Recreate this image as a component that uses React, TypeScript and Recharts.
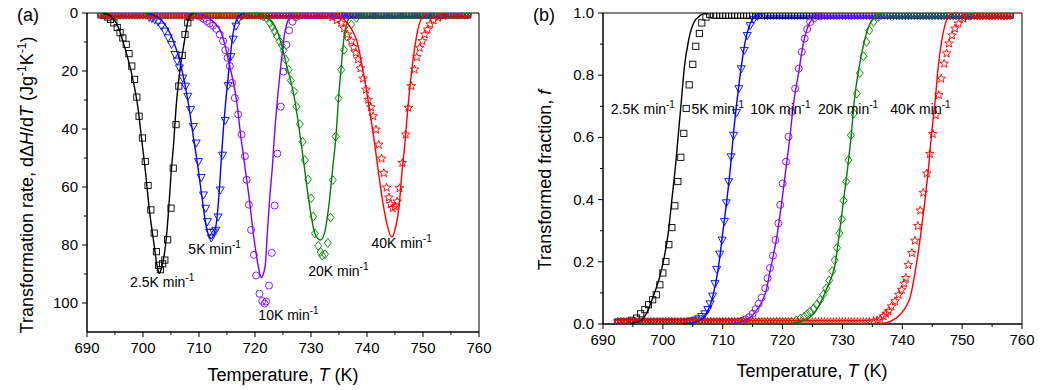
import React from "react";
import { ScatterChart, Scatter, XAxis, YAxis, ReferenceArea, ReferenceDot, Label } from "recharts";

const FONT = '"Liberation Sans", Arial, Helvetica, sans-serif';

// temperatures of the flat parts of every run (K)
const baselineT = [
  692.5, 693, 693.5, 694, 694.5, 695, 695.5, 696, 696.5, 697, 697.5, 698, 698.5, 699, 699.5, 700,
  700.5, 701, 701.5, 702, 702.5, 703, 703.5, 704, 704.5, 705, 705.5, 706, 706.5, 707, 707.5, 708,
  708.5, 709, 709.5, 710, 710.5, 711, 711.5, 712, 712.5, 713, 713.5, 714, 714.5, 715, 715.5, 716,
  716.5, 717, 717.5, 718, 718.5, 719, 719.5, 720, 720.5, 721, 721.5, 722, 722.5, 723, 723.5, 724,
  724.5, 725, 725.5, 726, 726.5, 727, 727.5, 728, 728.5, 729, 729.5, 730, 730.5, 731, 731.5, 732,
  732.5, 733, 733.5, 734, 734.5, 735, 735.5, 736, 736.5, 737, 737.5, 738, 738.5, 739, 739.5, 740,
  740.5, 741, 741.5, 742, 742.5, 743, 743.5, 744, 744.5, 745, 745.5, 746, 746.5, 747, 747.5, 748,
  748.5, 749, 749.5, 750, 750.5, 751, 751.5, 752, 752.5, 753, 753.5, 754, 754.5, 755, 755.5, 756,
  756.5, 757, 757.5, 758,
];

// (a) transformation rate dΔH/dT, measured points [T, value]
const rateExp25 = [
  [693.2, 0.8], [693.7, 1.4], [694.2, 2.2], [694.8, 3.4], [695.4, 5.0], [695.9, 6.8], [696.4, 8.6],
  [697.0, 10.8], [697.5, 14.0], [698.0, 18.3], [698.5, 22.9], [698.9, 29.0], [699.3, 35.6], [699.9, 43.1],
  [700.4, 51.2], [700.9, 59.5], [701.4, 67.9], [702.0, 75.9], [702.4, 82.3], [702.8, 87.0], [703.1, 88.5],
  [703.5, 86.5], [703.9, 85.2], [704.4, 78.2], [705.0, 67.3], [705.4, 53.5], [705.9, 38.5], [706.4, 25.2],
  [707.0, 14.6], [707.5, 7.4], [708.0, 3.4], [708.4, 1.4],
];
const rateExp5 = [
  [701.1, 1.4], [701.6, 1.8], [702.1, 2.3], [702.7, 3.0], [703.3, 4.5], [703.9, 6.2], [704.5, 8.5],
  [705.1, 10.8], [705.7, 14.3], [706.1, 16.5], [706.5, 18.9], [707.1, 22.4], [707.6, 25.2], [708.0, 28.7],
  [708.5, 33.3], [709.0, 39.1], [709.5, 44.8], [709.9, 51.2], [710.4, 56.7], [710.8, 62.7], [711.2, 67.3],
  [711.5, 71.9], [711.9, 75.6], [712.2, 77.5], [712.6, 75.5], [713.0, 74.9], [713.4, 70.3], [713.8, 61.0],
  [714.2, 49.0], [714.7, 37.0], [715.2, 25.0], [715.7, 15.0], [716.1, 9.0], [716.6, 4.5], [717.1, 2.0],
  [717.6, 1.0],
];
const rateExp10 = [
  [709.6, 0.8], [710.2, 1.3], [710.8, 2.0], [711.4, 2.8], [711.9, 3.6], [712.5, 4.4], [713.1, 5.5],
  [713.7, 7.4], [714.3, 9.7], [714.7, 12.8], [715.1, 15.5], [715.5, 18.3], [715.9, 24.1], [716.4, 29.3],
  [717.0, 35.0], [717.6, 41.9], [718.2, 49.4], [718.5, 57.5], [718.9, 66.1], [719.3, 74.8], [719.8, 83.4],
  [720.2, 90.5], [720.8, 96.8], [721.3, 99.3], [721.7, 100.2], [722.0, 99.5], [722.5, 94.0], [723.0, 82.7],
  [723.5, 66.4], [724.0, 48.5], [724.6, 32.3], [725.1, 20.2], [725.6, 11.0], [726.1, 6.0], [726.7, 3.0],
  [727.3, 1.5], [727.9, 0.8],
];
const rateExp20 = [
  [721.0, 0.8], [721.5, 1.2], [722.0, 1.7], [722.7, 3.5], [723.1, 4.8], [723.5, 6.3], [723.9, 7.9],
  [724.4, 9.8], [724.8, 11.2], [725.1, 12.9], [725.5, 16.1], [726.0, 19.6], [726.4, 23.3], [727.0, 27.1],
  [727.4, 32.3], [728.0, 38.3], [728.5, 44.4], [728.9, 50.7], [729.5, 57.4], [730.0, 63.9], [730.4, 70.2],
  [730.7, 76.0], [731.3, 80.3], [731.7, 82.4], [732.0, 83.7], [732.5, 83.2], [733.0, 79.3], [733.5, 70.5],
  [733.9, 57.6], [734.4, 42.6], [734.9, 29.4], [735.4, 19.6], [735.9, 12.7], [736.4, 8.1], [737.2, 4.0],
  [738.1, 1.7],
];
const rateExp40 = [
  [733.0, 0.8], [733.8, 1.5], [734.6, 2.5], [735.4, 3.4], [735.9, 5.3], [736.5, 7.4], [737.2, 9.7],
  [737.6, 11.8], [738.0, 13.7], [738.4, 16.0], [738.8, 19.1], [739.3, 22.6], [739.8, 26.4], [740.2, 29.9],
  [740.7, 32.5], [741.1, 35.6], [741.6, 40.2], [742.1, 45.4], [742.6, 50.2], [743.0, 55.2], [743.5, 60.2],
  [743.9, 63.6], [744.2, 65.9], [744.6, 67.3], [745.0, 66.7], [745.4, 65.0], [745.8, 60.4], [746.3, 51.7],
  [746.9, 41.9], [747.4, 32.7], [747.9, 25.2], [748.5, 19.5], [748.9, 15.2], [749.4, 12.0], [749.9, 9.7],
  [750.3, 7.4], [750.8, 5.7], [751.3, 3.9], [751.9, 2.5], [752.7, 1.6], [753.6, 1.0], [754.8, 0.7],
];

// (a) fitted curves
const rateFit25 = [
  [692.8, 0], [693.5, 0.3], [694.5, 1.5], [695.5, 4.5], [696.4, 9.7], [697.2, 15.0], [698.0, 21.2],
  [699.1, 32.7], [699.8, 44.2], [700.5, 55.8], [701.1, 67.3], [701.9, 78.8], [702.6, 88.0], [702.9, 89.8],
  [703.3, 88.0], [704.1, 78.8], [704.6, 67.3], [705.0, 55.8], [705.5, 44.2], [705.9, 32.7], [706.5, 21.2],
  [707.4, 9.7], [708.0, 3.0], [708.6, 0.5], [709.2, 0],
];
const rateFit5 = [
  [700.5, 0], [702.0, 0.8], [703.0, 2.0], [704.0, 4.2], [704.8, 6.9], [706.8, 18.4], [708.0, 30.0],
  [708.9, 41.5], [709.8, 53.0], [710.6, 64.5], [711.3, 73.7], [712.2, 77.8], [713.0, 73.7], [713.5, 64.5],
  [713.9, 53.0], [714.3, 41.5], [714.8, 30.0], [715.4, 18.4], [716.1, 6.9], [716.7, 2.3], [717.4, 0.6],
  [718.2, 0],
];
const rateFit10 = [
  [709.5, 0], [711.5, 1.5], [713.0, 3.8], [714.0, 6.9], [715.5, 18.4], [716.7, 30.0], [717.4, 41.5],
  [718.2, 53.0], [719.0, 64.5], [719.7, 76.0], [720.6, 87.5], [721.1, 91.2], [721.8, 87.5], [722.2, 76.0],
  [722.6, 64.5], [723.1, 53.0], [723.5, 41.5], [724.0, 30.0], [724.6, 18.4], [725.3, 6.9], [726.0, 2.0],
  [726.8, 0.2], [727.5, 0],
];
const rateFit20 = [
  [719.5, 0], [722.0, 1.5], [724.1, 6.9], [725.7, 18.4], [727.1, 30.0], [728.0, 41.5], [728.8, 53.0],
  [729.6, 64.5], [730.7, 76.0], [731.7, 78.3], [732.4, 76.0], [733.3, 64.5], [733.9, 53.0], [734.5, 41.5],
  [734.9, 30.0], [735.4, 18.4], [736.0, 6.9], [736.7, 2.0], [737.5, 0.2], [738.0, 0],
];
const rateFit40 = [
  [733.5, 0], [735.0, 0.8], [736.5, 3.5], [737.5, 6.5], [738.2, 9.7], [739.4, 21.2], [740.4, 32.7],
  [741.3, 44.2], [742.1, 55.8], [743.0, 67.3], [743.6, 73.1], [744.4, 77.3], [745.2, 73.1], [745.7, 67.3],
  [746.2, 55.8], [746.8, 44.2], [747.3, 32.7], [747.9, 21.2], [748.7, 9.7], [749.3, 4.0], [750.0, 1.0],
  [750.8, 0],
];

// (b) transformed fraction f, measured points
const fracExp25 = [
  [693.9, 0.007], [694.8, 0.012], [695.6, 0.019], [696.3, 0.033], [697.0, 0.046], [697.6, 0.062],
  [698.3, 0.078], [698.9, 0.094], [699.5, 0.126], [700.0, 0.164], [700.5, 0.201], [701.0, 0.255],
  [701.5, 0.31], [702.0, 0.38], [702.5, 0.458], [703.0, 0.536], [703.5, 0.613], [703.9, 0.693],
  [704.4, 0.769], [705.0, 0.835], [705.5, 0.893], [706.1, 0.934], [706.5, 0.968], [707.2, 0.987],
  [707.8, 0.996],
];
const fracExp5 = [
  [703.0, 0.004], [703.6, 0.006], [704.2, 0.008], [704.8, 0.01], [705.4, 0.013], [706.0, 0.017],
  [706.5, 0.024], [707.0, 0.033], [707.5, 0.047], [707.9, 0.065], [708.3, 0.09], [708.7, 0.13],
  [709.0, 0.176], [709.5, 0.225], [709.9, 0.27], [710.3, 0.33], [710.6, 0.39], [711.0, 0.458],
  [711.4, 0.538], [711.8, 0.607], [712.3, 0.68], [712.7, 0.757], [713.1, 0.821], [713.6, 0.88],
  [714.1, 0.928], [714.6, 0.96], [715.2, 0.98], [715.8, 0.99], [716.4, 0.996],
];
const fracExp10 = [
  [712.0, 0.005], [712.6, 0.007], [713.2, 0.01], [713.8, 0.015], [714.4, 0.022], [715.0, 0.033],
  [715.5, 0.048], [716.0, 0.065], [716.5, 0.085], [717.1, 0.115], [717.5, 0.147], [717.9, 0.18],
  [718.4, 0.22], [718.8, 0.27], [719.3, 0.324], [719.6, 0.383], [720.0, 0.452], [720.6, 0.522],
  [721.0, 0.602], [721.5, 0.682], [722.1, 0.757], [722.7, 0.821], [723.2, 0.875], [723.7, 0.918],
  [724.1, 0.948], [724.6, 0.971], [725.3, 0.984], [726.2, 0.99],
];
const fracExp20 = [
  [721.5, 0.008], [722.3, 0.012], [723.0, 0.018], [723.6, 0.024], [724.1, 0.032], [724.6, 0.04],
  [725.2, 0.05], [725.7, 0.062], [726.3, 0.078], [726.8, 0.095], [727.3, 0.115], [727.8, 0.14],
  [728.3, 0.17], [728.7, 0.205], [729.1, 0.245], [729.5, 0.292], [729.9, 0.337], [730.2, 0.397],
  [730.6, 0.458], [731.0, 0.527], [731.4, 0.607], [731.9, 0.677], [732.4, 0.741], [732.9, 0.807],
  [733.5, 0.861], [734.0, 0.907], [734.5, 0.944], [735.2, 0.971], [736.0, 0.987], [736.9, 0.995],
];
const fracExp40 = [
  [734.5, 0.007], [735.2, 0.009], [735.8, 0.011], [736.3, 0.014], [736.9, 0.025], [737.3, 0.033],
  [737.7, 0.041], [738.2, 0.057], [738.8, 0.073], [739.4, 0.094], [739.9, 0.11], [740.3, 0.13],
  [740.6, 0.148], [741.0, 0.19], [741.6, 0.228], [742.1, 0.268], [742.6, 0.315], [743.0, 0.365],
  [743.5, 0.422], [744.1, 0.484], [744.6, 0.547], [745.1, 0.611], [745.6, 0.672], [746.1, 0.736],
  [746.5, 0.789], [747.0, 0.837], [747.4, 0.87], [747.8, 0.902], [748.3, 0.928], [748.8, 0.95],
  [749.4, 0.966], [750.2, 0.982], [751.0, 0.989], [752.2, 0.993],
];

// (b) fitted curves
const fracFit25 = [
  [694.5, 0], [695.5, 0.005], [696.5, 0.014], [697.3, 0.035], [698.2, 0.078], [699.9, 0.185],
  [700.9, 0.292], [701.5, 0.399], [702.1, 0.506], [702.6, 0.613], [703.1, 0.72], [703.6, 0.827],
  [704.3, 0.912], [705.1, 0.966], [706.3, 0.993], [707.4, 1.0],
];
const fracFit5 = [
  [703.0, 0], [705.0, 0.004], [706.3, 0.012], [707.3, 0.035], [708.2, 0.078], [709.3, 0.185],
  [710.0, 0.292], [710.7, 0.4], [711.3, 0.506], [711.8, 0.613], [712.4, 0.72], [713.1, 0.827],
  [713.8, 0.912], [714.6, 0.966], [715.7, 0.993], [716.6, 1.0],
];
const fracFit10 = [
  [710.0, 0], [712.0, 0.003], [713.5, 0.01], [714.5, 0.02], [715.5, 0.04], [716.5, 0.07],
  [717.3, 0.11], [717.9, 0.169], [719.0, 0.276], [719.8, 0.383], [720.5, 0.49], [721.2, 0.597],
  [721.8, 0.704], [722.7, 0.81], [723.4, 0.896], [724.3, 0.96], [725.4, 0.987], [726.6, 1.0],
];
const fracFit20 = [
  [721.0, 0], [723.0, 0.008], [724.5, 0.02], [725.5, 0.04], [726.5, 0.075], [727.5, 0.12],
  [728.7, 0.185], [729.5, 0.292], [730.2, 0.4], [730.9, 0.506], [731.5, 0.613], [732.0, 0.72],
  [732.8, 0.827], [733.7, 0.912], [734.6, 0.966], [736.0, 0.993], [737.1, 1.0],
];
const fracFit40 = [
  [736.0, 0], [738.0, 0.008], [739.6, 0.03], [740.5, 0.052], [741.3, 0.085], [742.3, 0.185],
  [743.1, 0.292], [743.8, 0.4], [744.4, 0.506], [744.9, 0.613], [745.5, 0.72], [746.0, 0.827],
  [746.6, 0.912], [747.2, 0.966], [748.0, 0.993], [749.1, 1.0],
];

const rateNames = ["2.5K min", "5K min", "10K min", "20K min", "40K min"];
const xTicks = [690, 695, 700, 705, 710, 715, 720, 725, 730, 735, 740, 745, 750, 755, 760];
const rateTicks = [0, 10, 20, 30, 40, 50, 60, 70, 80, 90, 100, 110];
const fracTicks = [0, 0.1, 0.2, 0.3, 0.4, 0.5, 0.6, 0.7, 0.8, 0.9, 1.0];

// label anchors (left end of text baseline), in data units
const rateNotePos = [[697.7, 94.5], [708.1, 83.1], [720.6, 105.9], [729.5, 90.7], [740.8, 81.0]];
const fracNotePos = [[691.3, 0.675], [704.8, 0.675], [714.6, 0.675], [725.9, 0.675], [738.0, 0.675]];

const colors = ["#000000", "#0000ff", "#8000ff", "#008000", "#ff0000"];
const markerKinds = ["square", "triangle", "circle", "diamond", "star"];

const toXY = (pts: number[][]) => pts.map(([x, y]) => ({ x, y }));

function withBaseline(pts: number[][], low: number, high: number) {
  const first = pts[0][0];
  const last = pts[pts.length - 1][0];
  const before = baselineT.filter((t) => t < first - 0.25).map((t) => ({ x: t, y: low }));
  const after = baselineT.filter((t) => t > last + 0.25).map((t) => ({ x: t, y: high }));
  return [...before, ...toXY(pts), ...after];
}

function markerShape(kind: string, color: string) {
  return (p: any) => {
    const { cx, cy } = p;
    if (!Number.isFinite(cx) || !Number.isFinite(cy)) return <g />;
    const st = { fill: "none", stroke: color, strokeWidth: 0.9 };
    if (kind === "square") return <rect x={cx - 3.1} y={cy - 3.1} width={6.2} height={6.2} {...st} />;
    if (kind === "triangle")
      return <polygon points={`${cx - 4},${cy - 2.9} ${cx + 4},${cy - 2.9} ${cx},${cy + 4.2}`} {...st} />;
    if (kind === "circle") return <circle cx={cx} cy={cy} r={3.5} {...st} />;
    if (kind === "diamond")
      return <polygon points={`${cx},${cy - 4.4} ${cx + 3.5},${cy} ${cx},${cy + 4.4} ${cx - 3.5},${cy}`} {...st} />;
    const pts: string[] = [];
    for (let i = 0; i < 10; i++) {
      const a = (-90 + i * 36) * (Math.PI / 180);
      const r = i % 2 === 0 ? 4.5 : 1.9;
      pts.push(`${cx + r * Math.cos(a)},${cy + r * Math.sin(a)}`);
    }
    return <polygon points={pts.join(" ")} {...st} strokeLinejoin="round" />;
  };
}

const noShape = () => <g />;

const xTick = (p: any) => {
  const v = p.payload.value;
  const major = v % 10 === 0;
  return (
    <g>
      <line x1={p.x} y1={p.y} x2={p.x} y2={p.y + (major ? 5 : 3)} stroke="#000" />
      {major && (
        <text x={p.x} y={p.y + 21} textAnchor="middle" fontSize={15} fontFamily={FONT} fill="#000">
          {v}
        </text>
      )}
    </g>
  );
};

const yTick = (isMajor: (v: number) => boolean, fmt: (v: number) => string, skip: (v: number) => boolean) => (p: any) => {
  const v = p.payload.value;
  if (skip(v)) return <g />;
  const major = isMajor(v);
  return (
    <g>
      <line x1={p.x} y1={p.y} x2={p.x - (major ? 5 : 3)} y2={p.y} stroke="#000" />
      {major && (
        <text x={p.x - 9} y={p.y + 5} textAnchor="end" fontSize={15} fontFamily={FONT} fill="#000">
          {fmt(v)}
        </text>
      )}
    </g>
  );
};

const noteLabel = (text: string) => (p: any) => {
  const vb = p.viewBox || {};
  return (
    <text x={vb.x} y={vb.y} fontSize={14} fontFamily={FONT} fill="#000">
      {text}
      <tspan dy={-6} fontSize={10}>-1</tspan>
    </text>
  );
};

const xTitle = (cx: number, y: number) => () => (
  <text x={cx} y={y} textAnchor="middle" fontSize={18} fontFamily={FONT} fill="#000">
    Temperature,  <tspan fontStyle="italic">T</tspan> (K)
  </text>
);

const rateYTitle = () => (
  <g>
    <text x={17} y={21} fontSize={18} fontFamily={FONT} fill="#000">(a)</text>
    <text x={33} y={185} transform="rotate(-90 33 185)" textAnchor="middle" fontSize={18} fontFamily={FONT} fill="#000">
      Transformation rate, dΔ<tspan fontStyle="italic">H</tspan>/d<tspan fontStyle="italic">T</tspan> (Jg
      <tspan dy={-7} fontSize={12}>-1</tspan>
      <tspan dy={7}>K</tspan>
      <tspan dy={-7} fontSize={12}>-1</tspan>
      <tspan dy={7}>)</tspan>
    </text>
  </g>
);

const fracYTitle = () => (
  <g>
    <text x={17} y={21} fontSize={18} fontFamily={FONT} fill="#000">(b)</text>
    <text x={35} y={180} transform="rotate(-90 35 180)" textAnchor="middle" fontSize={18} fontFamily={FONT} fill="#000">
      Transformed fraction, <tspan fontStyle="italic">f</tspan>
    </text>
  </g>
);

type PanelProps = {
  width: number;
  marginRight: number;
  xHeight: number;
  yDomain: [number, number];
  reversed: boolean;
  yTicks: number[];
  tick: (p: any) => React.ReactElement;
  exp: number[][][];
  fit: number[][][];
  low: number;
  high: number;
  notes: number[][];
  yTitle: () => React.ReactElement;
  xTitleFn: () => React.ReactElement;
};

function Panel(props: PanelProps) {
  const { width, marginRight, xHeight, yDomain, reversed, yTicks, tick, exp, fit, low, high, notes, yTitle, xTitleFn } = props;
  return (
    <ScatterChart width={width} height={390} margin={{ top: 13, right: marginRight, bottom: 0, left: 0 }}>
      <XAxis
        type="number"
        dataKey="x"
        domain={[690, 760]}
        ticks={xTicks}
        interval={0}
        allowDataOverflow
        height={xHeight}
        tickLine={false}
        tickSize={0}
        tickMargin={0}
        axisLine={{ stroke: "#000" }}
        tick={xTick}
      >
        <Label content={xTitleFn} />
      </XAxis>
      <YAxis
        type="number"
        dataKey="y"
        domain={yDomain}
        reversed={reversed}
        ticks={yTicks}
        interval={0}
        allowDataOverflow
        width={87}
        tickLine={false}
        tickSize={0}
        tickMargin={0}
        axisLine={{ stroke: "#000" }}
        tick={tick}
      >
        <Label content={yTitle} />
      </YAxis>
      {exp.map((pts, i) => (
        <Scatter
          key={`e${i}`}
          data={withBaseline(pts, low, high)}
          shape={markerShape(markerKinds[i], colors[i])}
          isAnimationActive={false}
        />
      ))}
      {fit.map((pts, i) => (
        <Scatter
          key={`f${i}`}
          data={toXY(pts)}
          shape={noShape}
          line={{ stroke: colors[i], strokeWidth: 1.4 }}
          lineJointType="monotoneX"
          isAnimationActive={false}
        />
      ))}
      <ReferenceArea x1={690} x2={760} y1={yDomain[0]} y2={yDomain[1]} fill="none" stroke="#000" strokeWidth={1} ifOverflow="visible" />
      {notes.map(([t, v], i) => (
        <ReferenceDot key={`n${i}`} x={t} y={v} r={0} fill="none" stroke="none" ifOverflow="visible" label={{ content: noteLabel(rateNames[i]) }} />
      ))}
    </ScatterChart>
  );
}

export default function App() {
  return (
    <div style={{ position: "absolute", left: 0, top: 0, width: 1043, height: 390, background: "#fff" }}>
      <div style={{ position: "absolute", left: 0, top: 0 }}>
        <Panel
          width={520}
          marginRight={41}
          xHeight={58}
          yDomain={[0, 110]}
          reversed
          yTicks={rateTicks}
          tick={yTick((v) => v % 20 === 0, (v) => String(v), (v) => v > 100)}
          exp={[rateExp25, rateExp5, rateExp10, rateExp20, rateExp40]}
          fit={[rateFit25, rateFit5, rateFit10, rateFit20, rateFit40]}
          low={0.6}
          high={0.6}
          notes={rateNotePos}
          yTitle={rateYTitle}
          xTitleFn={xTitle(283, 381)}
        />
      </div>
      <div style={{ position: "absolute", left: 516, top: 0 }}>
        <Panel
          width={527}
          marginRight={21}
          xHeight={66}
          yDomain={[0, 1]}
          reversed={false}
          yTicks={fracTicks}
          tick={yTick((v) => Math.round(v * 10) % 2 === 0, (v) => v.toFixed(1), () => false)}
          exp={[fracExp25, fracExp5, fracExp10, fracExp20, fracExp40]}
          fit={[fracFit25, fracFit5, fracFit10, fracFit20, fracFit40]}
          low={0.006}
          high={0.993}
          notes={fracNotePos}
          yTitle={fracYTitle}
          xTitleFn={xTitle(296, 377)}
        />
      </div>
    </div>
  );
}
